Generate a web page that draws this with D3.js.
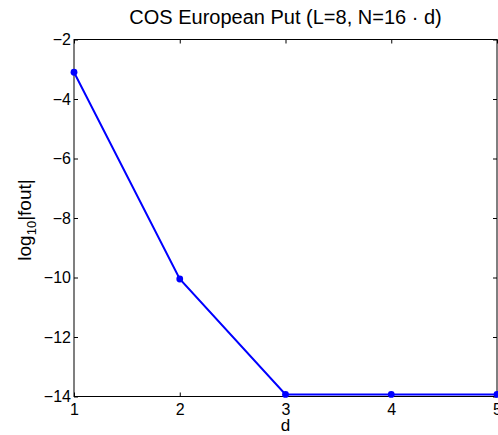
<!DOCTYPE html>
<html lang="en">
<head>
    <meta charset="UTF-8">
    <title>COS European Put</title>
    <script src="https://d3js.org/d3.v7.min.js"></script>
    <style>
        body { margin: 0; background: #fff; }
        text { font-family: "Liberation Sans", Arial, sans-serif; fill: #000; }
    </style>
</head>
<body>
    <script>
        // values
        const dims = [1, 2, 3, 4, 5];
        const logErr = [-3.1, -10.05, -13.93, -13.93, -13.93];
        const xTicks = [1, 2, 3, 4, 5];
        const yTicks = [-2, -4, -6, -8, -10, -12, -14];

        const w = 498, h = 435;
        const mLeft = 74, mRight = 497, mTop = 39.5, mBottom = 396.5;

        const svg = d3.select("body").append("svg")
            .attr("width", w)
            .attr("height", h);

        const x = d3.scaleLinear().domain([1, 5]).range([mLeft, mRight]);
        const y = d3.scaleLinear().domain([-14, -2]).range([mBottom, mTop]);

        const fmt = d => (d < 0 ? "\u2212" + Math.abs(d) : String(d));

        // bottom axis
        svg.append("g")
            .attr("transform", "translate(0," + mBottom + ")")
            .call(d3.axisBottom(x).tickValues(xTicks).tickFormat(fmt).tickSizeInner(-4).tickSizeOuter(0).tickPadding(7))
            .call(g => g.select(".domain").remove())
            .selectAll("text").style("font-size", "16px");

        // top ticks
        svg.append("g")
            .attr("transform", "translate(0," + mTop + ")")
            .call(d3.axisTop(x).tickValues(xTicks).tickFormat("").tickSizeInner(-4).tickSizeOuter(0))
            .call(g => g.select(".domain").remove());

        // left axis
        svg.append("g")
            .attr("transform", "translate(" + mLeft + ",0)")
            .call(d3.axisLeft(y).tickValues(yTicks).tickFormat(fmt).tickSizeInner(-4).tickSizeOuter(0).tickPadding(3))
            .call(g => g.select(".domain").remove())
            .selectAll("text").style("font-size", "16px");

        // right ticks
        svg.append("g")
            .attr("transform", "translate(" + mRight + ",0)")
            .call(d3.axisRight(y).tickValues(yTicks).tickFormat("").tickSizeInner(-4).tickSizeOuter(0))
            .call(g => g.select(".domain").remove());

        // frame
        svg.append("rect")
            .attr("x", mLeft).attr("y", mTop)
            .attr("width", mRight - mLeft).attr("height", mBottom - mTop)
            .attr("fill", "none").attr("stroke", "#000").attr("stroke-width", 1);

        const pts = dims.map((d, i) => [d, logErr[i]]);

        svg.append("path")
            .datum(pts)
            .attr("fill", "none")
            .attr("stroke", "#0000ff")
            .attr("stroke-width", 2)
            .attr("d", d3.line().x(d => x(d[0])).y(d => y(d[1])));

        svg.selectAll("circle")
            .data(pts)
            .enter()
            .append("circle")
            .attr("cx", d => x(d[0]))
            .attr("cy", d => y(d[1]))
            .attr("r", 3.4)
            .attr("fill", "#0000ff");

        // title and labels
        svg.append("text")
            .attr("x", (mLeft + mRight) / 2)
            .attr("y", 24)
            .attr("text-anchor", "middle")
            .style("font-size", "20px")
            .text("COS European Put (L=8, N=16 \u00b7 d)");

        svg.append("text")
            .attr("x", (mLeft + mRight) / 2)
            .attr("y", 431)
            .attr("text-anchor", "middle")
            .style("font-size", "17px")
            .text("d");

        const yl = svg.append("text")
            .attr("transform", "translate(31," + ((mTop + mBottom) / 2 + 2) + ") rotate(-90)")
            .attr("text-anchor", "middle")
            .style("font-size", "19px");
        yl.append("tspan").text("log");
        yl.append("tspan").attr("dy", 5).style("font-size", "13px").text("10");
        yl.append("tspan").attr("dy", -5).text("|fout|");
    </script>
</body>
</html>
